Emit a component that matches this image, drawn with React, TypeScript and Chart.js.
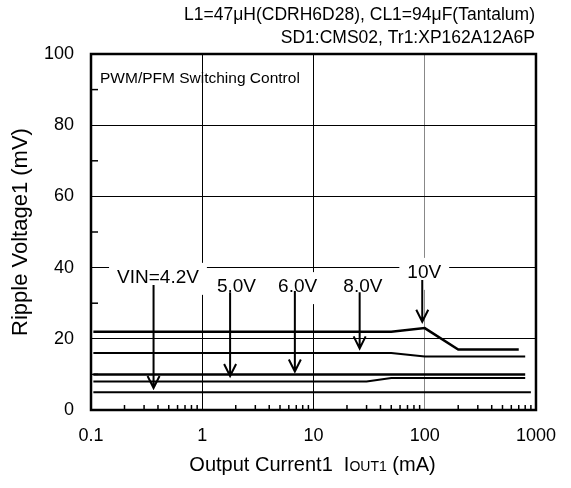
import React, { useEffect, useRef } from 'react';
import { Chart, registerables } from 'chart.js';
Chart.register(...registerables);

// Series: Ripple voltage (mV) vs output current (mA)
const s1X = [0.105, 50, 100, 200, 700];
const s1Y = [22, 22, 23, 17, 17];
const s2X = [0.105, 50, 100, 800];
const s2Y = [16, 16, 15, 15];
const s3X = [0.105, 800];
const s3Y = [10, 10];
const s4X = [0.105, 30, 50, 800];
const s4Y = [8, 8, 9, 9];
const s5X = [0.105, 900];
const s5Y = [5, 5];

const xTickValues = [0.1, 1, 10, 100, 1000];
const xTickLabels = ['0.1', '1', '10', '100', '1000'];
const yMajorTicks = [0, 20, 40, 60, 80, 100];
const yMinorTicks = [10, 30, 50, 70, 90];

const arrowLabels = ['VIN=4.2V', '5.0V', '6.0V', '8.0V', '10V'];
const labelX = [0.4, 2.03, 7.2, 27.8, 99];
const labelY = [37.4, 34.8, 34.8, 34.8, 38.8];
const arrowX = [0.365, 1.78, 6.8, 26, 95];
const arrowTop = [35.1, 33.1, 33.4, 33.1, 36.5];
const arrowTip = [6.2, 9.55, 10.8, 17.3, 24.8];

const headerLines = ['L1=47\u03bcH(CDRH6D28), CL1=94\u03bcF(Tantalum)', 'SD1:CMS02, Tr1:XP162A12A6P'];
const innerLabel = 'PWM/PFM Switching Control';
const yTitle = 'Ripple Voltage1 (mV)';

const FONT = '"Liberation Sans", Arial, sans-serif';

const toPts = (xs: number[], ys: number[]) => xs.map((x, i) => ({ x, y: ys[i] }));

const overlay = {
  id: 'overlay',
  afterDatasetsDraw(chart: any) {
    const { ctx, chartArea: a, scales } = chart;
    const x = scales.x;
    const y = scales.y;
    ctx.save();
    ctx.strokeStyle = '#000';
    // minor x ticks (inward)
    ctx.lineWidth = 1.5;
    for (let d = -1; d < 3; d++) {
      for (let m = 2; m <= 9; m++) {
        const px = x.getPixelForValue(m * Math.pow(10, d));
        ctx.beginPath();
        ctx.moveTo(px, a.bottom);
        ctx.lineTo(px, a.bottom - 5);
        ctx.stroke();
      }
    }
    // minor y ticks (inward)
    yMinorTicks.forEach((v) => {
      const py = y.getPixelForValue(v);
      ctx.beginPath();
      ctx.moveTo(a.left, py);
      ctx.lineTo(a.left + 7, py);
      ctx.stroke();
    });
    // annotation labels with white boxes
    ctx.font = `19px ${FONT}`;
    ctx.textAlign = 'center';
    ctx.textBaseline = 'middle';
    arrowLabels.forEach((t, i) => {
      const cx = x.getPixelForValue(labelX[i]);
      const cy = y.getPixelForValue(labelY[i]);
      const w = ctx.measureText(t).width;
      ctx.fillStyle = '#fff';
      ctx.fillRect(cx - w / 2 - 8, cy - 14, w + 16, 32);
      ctx.fillStyle = '#000';
      ctx.fillText(t, cx, cy + 1);
    });
    // arrows
    ctx.lineWidth = 2;
    arrowX.forEach((xv, i) => {
      const px = x.getPixelForValue(xv);
      const top = y.getPixelForValue(arrowTop[i]);
      const tip = y.getPixelForValue(arrowTip[i]);
      ctx.beginPath();
      ctx.moveTo(px, top);
      ctx.lineTo(px, tip);
      ctx.moveTo(px - 6, tip - 12);
      ctx.lineTo(px, tip);
      ctx.lineTo(px + 6, tip - 12);
      ctx.stroke();
    });
    // frame
    ctx.lineWidth = 2.5;
    ctx.strokeRect(a.left, a.top, a.right - a.left, a.bottom - a.top);
    // inner label
    ctx.fillStyle = '#000';
    ctx.font = `15.5px ${FONT}`;
    ctx.textAlign = 'left';
    ctx.textBaseline = 'middle';
    ctx.fillText(innerLabel, a.left + 9, a.top + 25);
    // header lines
    ctx.font = `17.5px ${FONT}`;
    ctx.textAlign = 'right';
    ctx.fillText(headerLines[0], a.right - 1, 15);
    ctx.fillText(headerLines[1], a.right - 1, 38);
    // x title with small-caps style subscript
    const big = `20px ${FONT}`;
    const small = `14px ${FONT}`;
    const p1 = 'Output Current1  I';
    const p2 = 'OUT1';
    const p3 = ' (mA)';
    ctx.font = big;
    const w1 = ctx.measureText(p1).width;
    const w3 = ctx.measureText(p3).width;
    ctx.font = small;
    const w2 = ctx.measureText(p2).width;
    const total = w1 + w2 + w3;
    let sx = (a.left + a.right) / 2 + 0 - total / 2 - 1;
    const base = 471;
    ctx.textAlign = 'left';
    ctx.textBaseline = 'alphabetic';
    ctx.font = big;
    ctx.fillText(p1, sx, base);
    sx += w1;
    ctx.font = small;
    ctx.fillText(p2, sx, base);
    sx += w2;
    ctx.font = big;
    ctx.fillText(p3, sx, base);
    ctx.restore();
  },
};

export default function App() {
  const ref = useRef<HTMLCanvasElement>(null);
  useEffect(() => {
    if (!ref.current) return;
    const mk = (xs: number[], ys: number[], w: number) => ({
      data: toPts(xs, ys),
      borderColor: '#000',
      borderWidth: w,
      pointRadius: 0,
      tension: 0,
      fill: false,
    });
    const chart = new Chart(ref.current, {
      type: 'line',
      data: {
        datasets: [
          mk(s1X, s1Y, 2.5),
          mk(s2X, s2Y, 2),
          mk(s3X, s3Y, 2.5),
          mk(s4X, s4Y, 2),
          mk(s5X, s5Y, 2),
        ],
      },
      options: {
        animation: false,
        responsive: false,
        layout: { padding: { top: 54, right: 30, left: 0, bottom: 0 } },
        plugins: { legend: { display: false }, tooltip: { enabled: false } },
        scales: {
          x: {
            type: 'logarithmic',
            min: 0.1,
            max: 1000,
            afterBuildTicks: (s: any) => {
              s.ticks = xTickValues.map((v) => ({ value: v }));
            },
            afterFit: (s: any) => {
              s.height = 78;
            },
            ticks: {
              autoSkip: false,
              maxRotation: 0,
              padding: 15,
              color: '#000',
              font: { family: FONT, size: 18 },
              callback: (v: any) => {
                const i = xTickValues.indexOf(Number(v));
                return i >= 0 ? xTickLabels[i] : '';
              },
            },
            grid: {
              drawTicks: false,
              lineWidth: 1,
              color: (c: any) => (c.tick && c.tick.value === 100 ? '#888' : '#000'),
            },
            border: { display: false },
          },
          y: {
            type: 'linear',
            min: 0,
            max: 100,
            afterBuildTicks: (s: any) => {
              s.ticks = yMajorTicks.map((v) => ({ value: v }));
            },
            afterFit: (s: any) => {
              s.width = 91;
            },
            ticks: {
              padding: 17,
              color: '#000',
              font: { family: FONT, size: 18 },
              callback: (v: any) => String(v),
            },
            grid: {
              drawTicks: false,
              lineWidth: 1,
              color: (c: any) => (c.tick && (c.tick.value === 0 || c.tick.value === 100) ? 'rgba(0,0,0,0)' : '#000'),
            },
            border: { display: false },
            title: {
              display: true,
              text: yTitle,
              color: '#000',
              font: { family: FONT, size: 22 },
              padding: { top: 8, bottom: 0 },
            },
          },
        },
      },
      plugins: [overlay],
    } as any);
    return () => chart.destroy();
  }, []);
  return (
    <div style={{ position: 'fixed', left: 0, top: 0, width: 571, height: 488, background: '#fff' }}>
      <canvas ref={ref} width={571} height={488} />
    </div>
  );
}
